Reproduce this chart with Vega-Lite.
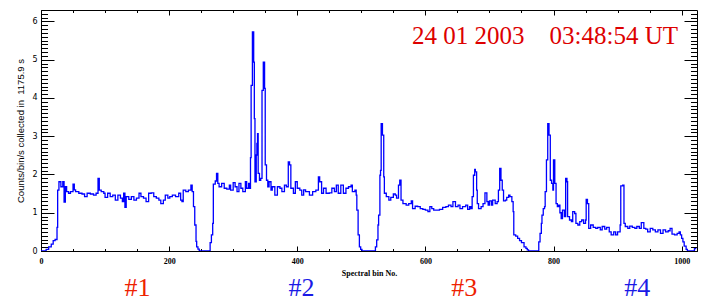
{
  "$schema": "https://vega.github.io/schema/vega-lite/v6.json",
  "width": 656,
  "height": 241,
  "autosize": {"type": "none"},
  "padding": {"left": 41, "top": 10, "right": 11, "bottom": 51},
  "background": "white",
  "config": {"view": {"stroke": "black", "strokeWidth": 1}},
  "title": {
    "text": "24 01 2003\u00a0\u00a0\u00a0 03:48:54 UT",
    "anchor": "end", "orient": "top", "frame": "group",
    "font": "Liberation Serif", "fontSize": 25, "fontWeight": "normal",
    "color": "#dd0000", "baseline": "alphabetic", "offset": 0, "dx": -19, "dy": 59
  },
  "datasets": {
    "spec": [
      {"b":0,"v":0},{"b":5,"v":0},{"b":8,"v":0.04},{"b":12,"v":0.11},{"b":16,"v":0.18},{"b":19,"v":0.27},{"b":22,"v":0.30},{"b":25,"v":0.62},{"b":26,"v":1.59},{"b":28,"v":1.81},{"b":31,"v":1.68},{"b":34,"v":1.81},{"b":36,"v":1.28},{"b":38,"v":1.68},{"b":40,"v":1.55},{"b":43,"v":1.51},{"b":46,"v":1.55},{"b":50,"v":1.75},{"b":52,"v":1.6},{"b":54,"v":1.55},{"b":59,"v":1.51},{"b":64,"v":1.49},{"b":68,"v":1.42},{"b":72,"v":1.51},{"b":77,"v":1.49},{"b":82,"v":1.46},{"b":86,"v":1.51},{"b":89,"v":1.90},{"b":91,"v":1.59},{"b":94,"v":1.55},{"b":98,"v":1.51},{"b":100,"v":1.40},{"b":104,"v":1.51},{"b":108,"v":1.42},{"b":112,"v":1.46},{"b":116,"v":1.33},{"b":120,"v":1.46},{"b":124,"v":1.38},{"b":127,"v":1.29},{"b":129,"v":1.51},{"b":131,"v":1.14},{"b":133,"v":1.42},{"b":137,"v":1.35},{"b":141,"v":1.42},{"b":145,"v":1.33},{"b":149,"v":1.38},{"b":153,"v":1.51},{"b":156,"v":1.42},{"b":160,"v":1.38},{"b":164,"v":1.29},{"b":168,"v":1.51},{"b":172,"v":1.52},{"b":176,"v":1.42},{"b":180,"v":1.38},{"b":184,"v":1.33},{"b":187,"v":1.24},{"b":191,"v":1.33},{"b":194,"v":1.46},{"b":198,"v":1.38},{"b":201,"v":1.42},{"b":205,"v":1.46},{"b":210,"v":1.42},{"b":215,"v":1.51},{"b":218,"v":1.33},{"b":220,"v":1.29},{"b":222,"v":1.59},{"b":226,"v":1.55},{"b":230,"v":1.59},{"b":234,"v":1.72},{"b":236,"v":1.55},{"b":238,"v":1.16},{"b":240,"v":0.68},{"b":242,"v":0.25},{"b":243,"v":0.11},{"b":245,"v":0.05},{"b":247,"v":0},
      {"b":262,"v":0},{"b":264,"v":0.22},{"b":266,"v":0.42},{"b":268,"v":0.72},{"b":269,"v":1.75},{"b":272,"v":1.83},{"b":274,"v":2.03},{"b":276,"v":1.77},{"b":278,"v":1.68},{"b":282,"v":1.77},{"b":286,"v":1.64},{"b":290,"v":1.62},{"b":294,"v":1.72},{"b":296,"v":1.59},{"b":300,"v":1.79},{"b":303,"v":1.68},{"b":306,"v":1.55},{"b":309,"v":1.77},{"b":312,"v":1.64},{"b":315,"v":1.55},{"b":319,"v":1.81},{"b":321,"v":1.64},{"b":324,"v":1.77},{"b":326,"v":1.64},{"b":327,"v":2.44},{"b":328,"v":4.33},{"b":330,"v":5.73},{"b":332,"v":4.94},{"b":333,"v":3.46},{"b":334,"v":1.81},{"b":336,"v":2.51},{"b":337,"v":2.81},{"b":338,"v":3.07},{"b":339,"v":2.03},{"b":341,"v":1.85},{"b":343,"v":1.90},{"b":345,"v":4.2},{"b":347,"v":4.94},{"b":349,"v":4.25},{"b":350,"v":2.25},{"b":352,"v":1.85},{"b":354,"v":1.68},{"b":356,"v":1.81},{"b":359,"v":1.59},{"b":361,"v":1.68},{"b":365,"v":1.46},{"b":369,"v":1.68},{"b":373,"v":1.64},{"b":376,"v":1.55},{"b":380,"v":1.72},{"b":383,"v":1.68},{"b":386,"v":2.33},{"b":388,"v":2.25},{"b":390,"v":1.64},{"b":394,"v":1.51},{"b":397,"v":1.81},{"b":400,"v":1.64},{"b":404,"v":1.59},{"b":407,"v":1.46},{"b":410,"v":1.60},{"b":413,"v":1.55},{"b":419,"v":1.46},{"b":424,"v":1.55},{"b":429,"v":1.59},{"b":433,"v":1.94},{"b":435,"v":1.81},{"b":438,"v":1.51},{"b":441,"v":1.64},{"b":445,"v":1.51},{"b":450,"v":1.52},{"b":454,"v":1.64},{"b":458,"v":1.55},{"b":461,"v":1.72},{"b":464,"v":1.51},{"b":468,"v":1.72},{"b":472,"v":1.51},{"b":476,"v":1.64},{"b":480,"v":1.68},{"b":484,"v":1.72},{"b":486,"v":1.55},{"b":490,"v":1.59},{"b":492,"v":1.46},{"b":493,"v":1.07},{"b":495,"v":0.42},{"b":497,"v":0.11},{"b":499,"v":0.04},{"b":501,"v":0},
      {"b":520,"v":0},{"b":522,"v":0.11},{"b":524,"v":0.29},{"b":526,"v":0.68},{"b":527,"v":0.94},{"b":529,"v":1.98},{"b":530,"v":2.11},{"b":531,"v":3.33},{"b":533,"v":3.03},{"b":535,"v":1.94},{"b":536,"v":1.51},{"b":539,"v":1.42},{"b":543,"v":1.33},{"b":546,"v":1.40},{"b":550,"v":1.49},{"b":553,"v":1.46},{"b":555,"v":1.38},{"b":558,"v":1.72},{"b":560,"v":1.85},{"b":562,"v":1.33},{"b":565,"v":1.24},{"b":570,"v":1.20},{"b":574,"v":1.24},{"b":578,"v":1.31},{"b":580,"v":1.11},{"b":584,"v":1.17},{"b":588,"v":1.16},{"b":592,"v":1.11},{"b":596,"v":1.09},{"b":600,"v":1.07},{"b":604,"v":1.03},{"b":607,"v":1.16},{"b":610,"v":1.11},{"b":613,"v":1.07},{"b":617,"v":1.07},{"b":622,"v":1.09},{"b":627,"v":1.14},{"b":632,"v":1.16},{"b":636,"v":1.20},{"b":640,"v":1.16},{"b":643,"v":1.29},{"b":647,"v":1.16},{"b":651,"v":1.20},{"b":654,"v":1.11},{"b":658,"v":1.16},{"b":663,"v":1.20},{"b":666,"v":1.09},{"b":669,"v":1.16},{"b":671,"v":1.11},{"b":673,"v":1.42},{"b":675,"v":1.98},{"b":677,"v":2.13},{"b":678,"v":2.07},{"b":680,"v":1.59},{"b":681,"v":1.24},{"b":683,"v":1.11},{"b":687,"v":1.16},{"b":690,"v":1.24},{"b":693,"v":1.52},{"b":696,"v":1.29},{"b":698,"v":1.20},{"b":700,"v":1.31},{"b":703,"v":1.20},{"b":705,"v":1.33},{"b":709,"v":1.24},{"b":712,"v":1.29},{"b":714,"v":1.59},{"b":716,"v":2.16},{"b":718,"v":1.85},{"b":720,"v":1.59},{"b":722,"v":1.31},{"b":725,"v":1.33},{"b":727,"v":1.40},{"b":730,"v":1.46},{"b":732,"v":1.42},{"b":735,"v":1.29},{"b":737,"v":1.03},{"b":738,"v":0.42},{"b":741,"v":0.39},{"b":744,"v":0.33},{"b":747,"v":0.27},{"b":750,"v":0.22},{"b":754,"v":0.11},{"b":757,"v":0.07},{"b":759,"v":0.03},{"b":761,"v":0},
      {"b":775,"v":0},{"b":777,"v":0.24},{"b":779,"v":0.46},{"b":781,"v":0.72},{"b":782,"v":0.94},{"b":784,"v":1.11},{"b":786,"v":1.16},{"b":787,"v":1.55},{"b":789,"v":2.38},{"b":791,"v":3.33},{"b":793,"v":3.03},{"b":795,"v":1.85},{"b":797,"v":1.77},{"b":799,"v":1.59},{"b":800,"v":2.38},{"b":802,"v":1.77},{"b":804,"v":1.24},{"b":806,"v":1.16},{"b":808,"v":1.20},{"b":810,"v":1.0},{"b":812,"v":0.85},{"b":814,"v":1.07},{"b":817,"v":0.90},{"b":819,"v":1.90},{"b":821,"v":1.81},{"b":822,"v":0.90},{"b":825,"v":0.81},{"b":828,"v":0.77},{"b":830,"v":1.03},{"b":833,"v":0.98},{"b":835,"v":0.72},{"b":838,"v":0.68},{"b":841,"v":0.77},{"b":844,"v":0.81},{"b":847,"v":0.72},{"b":850,"v":0.81},{"b":851,"v":1.35},{"b":853,"v":1.24},{"b":855,"v":0.59},{"b":858,"v":0.68},{"b":862,"v":0.62},{"b":866,"v":0.59},{"b":869,"v":0.62},{"b":873,"v":0.55},{"b":876,"v":0.64},{"b":880,"v":0.57},{"b":883,"v":0.62},{"b":887,"v":0.50},{"b":890,"v":0.42},{"b":894,"v":0.50},{"b":897,"v":0.42},{"b":900,"v":0.50},{"b":904,"v":0.68},{"b":905,"v":1.70},{"b":908,"v":1.72},{"b":910,"v":0.72},{"b":912,"v":0.64},{"b":916,"v":0.59},{"b":919,"v":0.65},{"b":923,"v":0.62},{"b":927,"v":0.59},{"b":930,"v":0.64},{"b":934,"v":0.59},{"b":937,"v":0.74},{"b":941,"v":0.59},{"b":944,"v":0.57},{"b":947,"v":0.50},{"b":951,"v":0.59},{"b":955,"v":0.55},{"b":959,"v":0.50},{"b":963,"v":0.55},{"b":967,"v":0.46},{"b":971,"v":0.55},{"b":975,"v":0.50},{"b":979,"v":0.53},{"b":982,"v":0.59},{"b":985,"v":0.44},{"b":989,"v":0.42},{"b":993,"v":0.46},{"b":996,"v":0.50},{"b":998,"v":0.42},{"b":1000,"v":0.33},{"b":1002,"v":0.24},{"b":1004,"v":0.13},{"b":1007,"v":0.04},{"b":1009,"v":0},{"b":1018,"v":0},{"b":1020,"v":0.06},{"b":1023,"v":0.06}
    ]
  },
  "data": {"name": "spec"},
  "resolve": {"axis": {"x": "independent", "y": "independent"}},
  "layer": [
    {
      "mark": {"type": "line", "interpolate": "step-after", "color": "#0000ff", "strokeWidth": 1.3, "clip": true},
      "encoding": {
        "x": {"field": "b", "type": "quantitative",
          "scale": {"domain": [0, 1024], "nice": false, "zero": false},
          "axis": {"orient": "bottom", "values": [0,200,400,600,800,1000], "format": "d", "tickSize": -5, "tickColor": "black", "tickWidth": 1,
            "domain": false, "grid": false, "labelFont": "Liberation Serif", "labelFontWeight": "bold", "labelFontSize": 8, "labelColor": "black",
            "labelPadding": 11, "labelFlush": false, "labelOverlap": false,
            "title": "Spectral bin No.", "titleFont": "Liberation Serif", "titleFontSize": 8, "titleFontWeight": "bold", "titleColor": "black", "titlePadding": 4}},
        "y": {"field": "v", "type": "quantitative",
          "scale": {"domain": [0, 6.3], "nice": false, "zero": false},
          "axis": {"orient": "left", "values": [0,1,2,3,4,5,6], "tickSize": -13, "tickColor": "black", "tickWidth": 1,
            "domain": false, "grid": false, "labelFont": "DejaVu Sans", "labelFontSize": 8, "labelColor": "black",
            "labelPadding": 17, "labelFlush": false, "labelOverlap": false,
            "title": "Counts/bin/s collected in\u00a0\u00a01175.9 s", "titleFont": "Liberation Sans", "titleFontSize": 9.5, "titleFontWeight": "normal", "titleColor": "black", "titlePadding": 6}}
      }
    },
    {
      "mark": {"type": "line", "opacity": 0},
      "encoding": {
        "x": {"field": "b", "type": "quantitative",
          "axis": {"orient": "bottom", "values": [0,50,100,150,200,250,300,350,400,450,500,550,600,650,700,750,800,850,900,950,1000], "tickSize": -2.5, "tickColor": "black",
            "domain": false, "grid": false, "labels": false, "title": null}},
        "y": {"field": "v", "type": "quantitative",
          "axis": {"orient": "left", "values": [0,0.1,0.2,0.3,0.4,0.5,0.6,0.7,0.8,0.9,1,1.1,1.2,1.3,1.4,1.5,1.6,1.7,1.8,1.9,2,2.1,2.2,2.3,2.4,2.5,2.6,2.7,2.8,2.9,3,3.1,3.2,3.3,3.4,3.5,3.6,3.7,3.8,3.9,4,4.1,4.2,4.3,4.4,4.5,4.6,4.7,4.8,4.9,5,5.1,5.2,5.3,5.4,5.5,5.6,5.7,5.8,5.9,6,6.1,6.2], "tickSize": -6.5, "tickColor": "black",
            "domain": false, "grid": false, "labels": false, "title": null}}
      }
    },
    {
      "mark": {"type": "line", "opacity": 0},
      "encoding": {
        "x": {"field": "b", "type": "quantitative",
          "axis": {"orient": "top", "values": [0,200,400,600,800,1000], "tickSize": -5, "tickColor": "black",
            "domain": false, "grid": false, "labels": false, "title": null}},
        "y": {"field": "v", "type": "quantitative",
          "axis": {"orient": "right", "values": [0,1,2,3,4,5,6], "tickSize": -13, "tickColor": "black",
            "domain": false, "grid": false, "labels": false, "title": null}}
      }
    },
    {
      "mark": {"type": "line", "opacity": 0},
      "encoding": {
        "x": {"field": "b", "type": "quantitative",
          "axis": {"orient": "top", "values": [0,50,100,150,200,250,300,350,400,450,500,550,600,650,700,750,800,850,900,950,1000], "tickSize": -2.5, "tickColor": "black",
            "domain": false, "grid": false, "labels": false, "title": null}},
        "y": {"field": "v", "type": "quantitative",
          "axis": {"orient": "right", "values": [0,0.1,0.2,0.3,0.4,0.5,0.6,0.7,0.8,0.9,1,1.1,1.2,1.3,1.4,1.5,1.6,1.7,1.8,1.9,2,2.1,2.2,2.3,2.4,2.5,2.6,2.7,2.8,2.9,3,3.1,3.2,3.3,3.4,3.5,3.6,3.7,3.8,3.9,4,4.1,4.2,4.3,4.4,4.5,4.6,4.7,4.8,4.9,5,5.1,5.2,5.3,5.4,5.5,5.6,5.7,5.8,5.9,6,6.1,6.2], "tickSize": -6.5, "tickColor": "black",
            "domain": false, "grid": false, "labels": false, "title": null}}
      }
    },
    {
      "mark": {"type": "line", "opacity": 0},
      "encoding": {
        "x": {"field": "b", "type": "quantitative",
          "axis": {"orient": "bottom", "values": [150, 406, 660, 930], "ticks": false, "domain": false, "grid": false,
            "labelExpr": "datum.value == 150 ? '#1' : datum.value == 406 ? '#2' : datum.value == 660 ? '#3' : '#4'",
            "labelFont": "Liberation Serif", "labelFontSize": 26, "labelFontWeight": "normal", "labelPadding": 23,
            "labelColor": {"condition": {"test": "datum.value == 150 || datum.value == 660", "value": "#ee2200"}, "value": "#1a1ae6"},
            "labelFlush": false, "labelOverlap": false, "title": null}},
        "y": {"field": "v", "type": "quantitative", "axis": null}
      }
    }
  ]
}
